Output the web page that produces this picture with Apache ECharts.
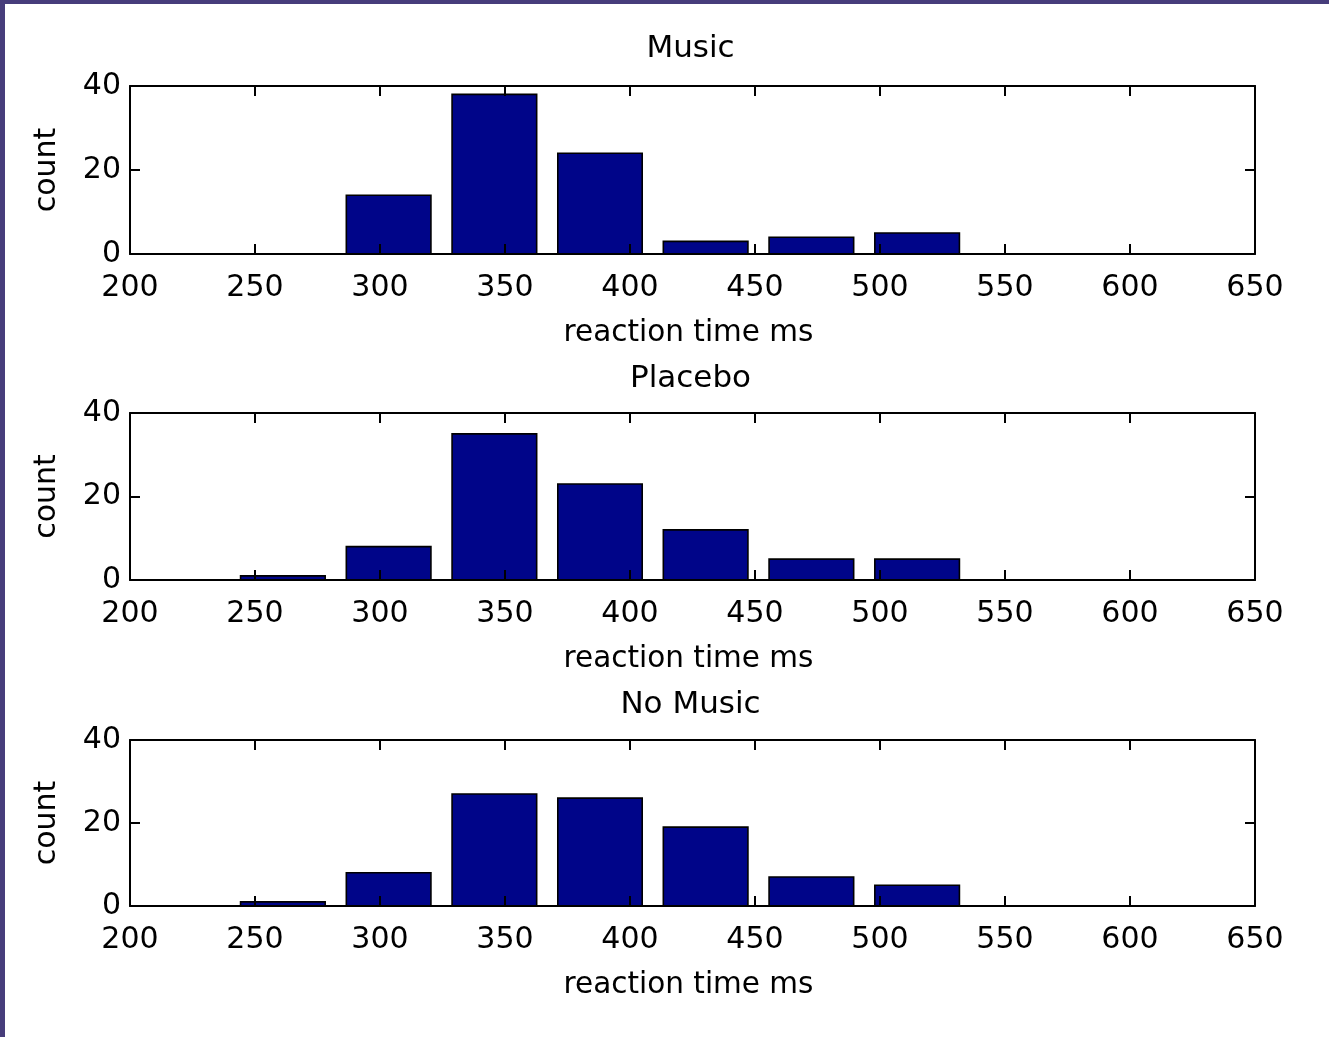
<!DOCTYPE html>
<html>
<head>
<meta charset="utf-8">
<script src="https://cdn.jsdelivr.net/npm/echarts@6/dist/echarts.min.js"></script>
<style>
  html, body { margin: 0; padding: 0; background: #fff; }
  #chart { position: absolute; left: 0; top: 0; width: 1329px; height: 1037px; }
  .edge { position: absolute; background: #473d7b; z-index: 10; }
</style>
</head>
<body>
<div id="chart"></div>
<div class="edge" style="left:0;top:0;width:1329px;height:4px;"></div>
<div class="edge" style="left:0;top:0;width:5px;height:1037px;"></div>
<script>
// Histogram bin edges (reaction time, ms) shared by all three panels
const binEdges = [240, 282.3, 324.6, 366.9, 409.1, 451.4, 493.7, 536.0];

// Counts per bin for each condition
const musicCounts   = [0, 14, 38, 24, 3, 4, 5];
const placeboCounts = [1, 8, 35, 23, 12, 5, 5];
const noMusicCounts = [1, 8, 27, 26, 19, 7, 5];

const panelTitles = ['Music', 'Placebo', 'No Music'];
const panelCounts = [musicCounts, placeboCounts, noMusicCounts];

// Axis ranges and tick steps
const xMin = 200, xMax = 650, xStep = 50;
const yMin = 0, yMax = 40, yStep = 20;

const xLabel = 'reaction time ms';
const yLabel = 'count';

// Layout / style
const FONT = 'DejaVu Sans';
const BAR_COLOR = '#000589';
const RWIDTH = 0.8; // fraction of bin occupied by a bar
const panelLayout = [
  { top: 86,  height: 168, titleTop: 33 },
  { top: 413, height: 167, titleTop: 363 },
  { top: 740, height: 166, titleTop: 689 }
];
const GRID_LEFT = 130, GRID_RIGHT = 74;

function binData(counts) {
  const out = [];
  for (let i = 0; i < counts.length; i++) {
    if (counts[i] <= 0) continue;
    const w = binEdges[i + 1] - binEdges[i];
    const pad = w * (1 - RWIDTH) / 2;
    out.push([binEdges[i] + pad, binEdges[i + 1] - pad, counts[i]]);
  }
  return out;
}

const lineStyle = { color: '#000', width: 2 };
const tickStyle = { show: true, inside: true, length: 10, lineStyle: { color: '#000', width: 2 } };
const labelFont = { color: '#000', fontFamily: FONT, fontSize: 30 };

const grid = [], xAxis = [], yAxis = [], series = [], title = [];

panelLayout.forEach((p, k) => {
  grid.push({ left: GRID_LEFT, right: GRID_RIGHT, top: p.top, height: p.height, containLabel: false });
  title.push({
    text: panelTitles[k], left: (GRID_LEFT + 1329 - GRID_RIGHT) / 2 - 2, top: p.titleTop,
    textAlign: 'center', padding: 0,
    textStyle: { color: '#000', fontFamily: FONT, fontSize: 31, fontWeight: 'normal' }
  });
  // bottom x axis with labels and name
  xAxis.push({
    type: 'value', gridIndex: k, position: 'bottom', min: xMin, max: xMax, interval: xStep, z: 5,
    axisLine: { show: true, onZero: false, lineStyle },
    axisTick: tickStyle, splitLine: { show: false },
    axisLabel: Object.assign({ margin: 19 }, labelFont),
    name: xLabel, nameLocation: 'middle', nameGap: 64,
    nameTextStyle: { color: '#000', fontFamily: FONT, fontSize: 29.5, padding: [0, 8, 0, 0] }
  });
  // top x axis: frame + inward ticks only
  xAxis.push({
    type: 'value', gridIndex: k, position: 'top', min: xMin, max: xMax, interval: xStep, z: 5,
    axisLine: { show: true, onZero: false, lineStyle },
    axisTick: tickStyle, splitLine: { show: false }, axisLabel: { show: false }
  });
  yAxis.push({
    type: 'value', gridIndex: k, position: 'left', min: yMin, max: yMax, interval: yStep, z: 5,
    axisLine: { show: true, onZero: false, lineStyle },
    axisTick: tickStyle, splitLine: { show: false },
    axisLabel: Object.assign({ margin: 9, padding: [5, 0, 0, 0] }, labelFont),
    name: yLabel, nameLocation: 'middle', nameGap: 68, nameRotate: 90,
    nameTextStyle: { color: '#000', fontFamily: FONT, fontSize: 30 }
  });
  yAxis.push({
    type: 'value', gridIndex: k, position: 'right', min: yMin, max: yMax, interval: yStep, z: 5,
    axisLine: { show: true, onZero: false, lineStyle },
    axisTick: tickStyle, splitLine: { show: false }, axisLabel: { show: false }
  });
  series.push({
    type: 'custom', name: panelTitles[k], xAxisIndex: 2 * k, yAxisIndex: 2 * k,
    data: binData(panelCounts[k]),
    encode: { x: [0, 1], y: 2 },
    renderItem: function (params, api) {
      const a = api.coord([api.value(0), api.value(2)]);
      const b = api.coord([api.value(1), 0]);
      return {
        type: 'rect',
        shape: { x: a[0], y: a[1], width: b[0] - a[0], height: b[1] - a[1] },
        style: { fill: BAR_COLOR, stroke: '#000', lineWidth: 1.6 }
      };
    }
  });
});

const chart = echarts.init(document.getElementById('chart'), null, { renderer: 'canvas' });
chart.setOption({
  animation: false,
  backgroundColor: '#fff',
  title, grid, xAxis, yAxis, series
});
</script>
</body>
</html>
